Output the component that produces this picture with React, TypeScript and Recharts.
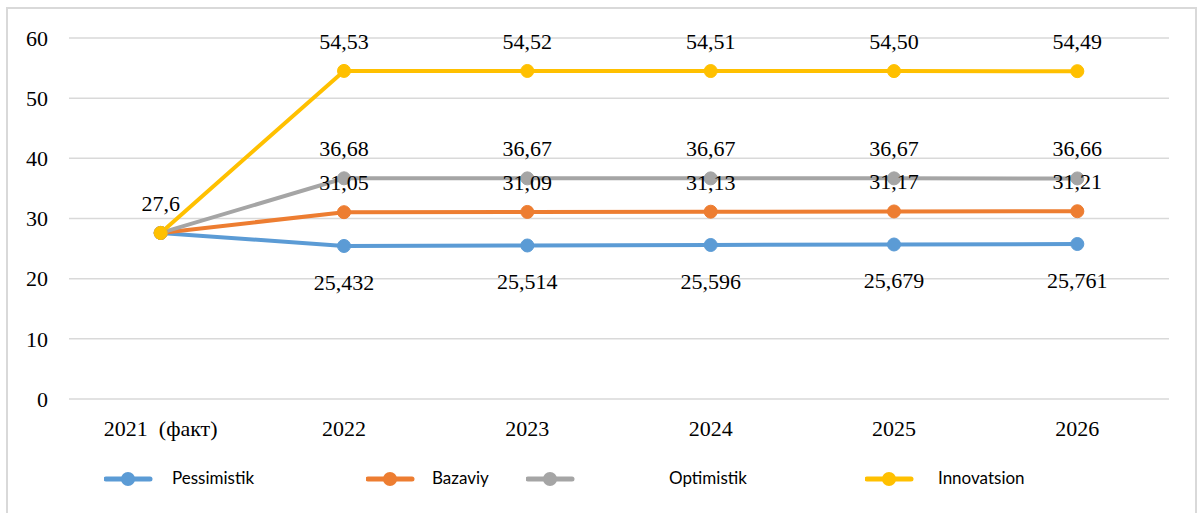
import { LineChart, Line, XAxis, YAxis, CartesianGrid, LabelList } from 'recharts'

const categories = ['2021 (факт)', '2022', '2023', '2024', '2025', '2026']
const pessimistik = [27.6, 25.432, 25.514, 25.596, 25.679, 25.761]
const bazaviy = [27.6, 31.05, 31.09, 31.13, 31.17, 31.21]
const optimistik = [27.6, 36.68, 36.67, 36.67, 36.67, 36.66]
const innovatsion = [27.6, 54.53, 54.52, 54.51, 54.5, 54.49]
const yTicks = [0, 10, 20, 30, 40, 50, 60]

const serif = '"Liberation Serif", "Times New Roman", serif'
const sans = 'Lato, "Liberation Sans", Arial, sans-serif'

const series = [
  { key: 'p', name: 'Pessimistik', values: pessimistik, color: '#5B9BD5', digits: 3, pos: 'bottom' as const, legendX: 104, textX: 172 },
  { key: 'b', name: 'Bazaviy', values: bazaviy, color: '#ED7D31', digits: 2, pos: 'top' as const, legendX: 366, textX: 432 },
  { key: 'o', name: 'Optimistik', values: optimistik, color: '#A5A5A5', digits: 2, pos: 'top' as const, legendX: 526, textX: 669 },
  { key: 'i', name: 'Innovatsion', values: innovatsion, color: '#FFC000', digits: 2, pos: 'top' as const, legendX: 865, textX: 938 },
]

const fmt = (v: number, d: number) => v.toFixed(d).replace('.', ',')

// the 2021 value is only labelled once (all series start at the same point)
const rows = categories.map((c, i) => {
  const row: Record<string, string | number | undefined> = { cat: c }
  series.forEach(s => {
    row[s.key] = s.values[i]
    row[s.key + 'Lbl'] = i === 0 ? (s.key === 'i' ? fmt(s.values[i], 1) : undefined) : fmt(s.values[i], s.digits)
  })
  return row
})

const tickStyle = { fontFamily: serif, fontSize: 22, fill: '#000' }

export default function App() {
  return (
    <div style={{ position: 'absolute', left: 0, top: 0, width: 1203, height: 513, background: '#fff', overflow: 'hidden' }}>
      <div style={{ position: 'absolute', left: 6, top: 7, width: 1187, height: 520, border: '2px solid #d9d9d9' }} />
      <div style={{ position: 'absolute', left: 0, top: 0 }}>
        <LineChart width={1203} height={513} data={rows} margin={{ top: 38, right: 34, left: 0, bottom: 64 }}>
          <CartesianGrid vertical={false} stroke="#d9d9d9" strokeWidth={1.5} />
          <XAxis dataKey="cat" scale="band" height={50} axisLine={false} tickLine={false}
            tickMargin={15} tick={tickStyle} interval={0}
            tickFormatter={(v: string) => v.replace(' ', '\u00a0\u00a0')} />
          <YAxis width={69} domain={[0, 60]} ticks={yTicks} axisLine={false} tickLine={false}
            tickMargin={15} tick={tickStyle} />
          {series.map(s => (
            <Line key={s.key} dataKey={s.key} name={s.name} stroke={s.color} strokeWidth={4}
              dot={{ r: 6.5, fill: s.color, stroke: s.color, strokeWidth: 1 }} activeDot={false}
              isAnimationActive={false}>
              <LabelList dataKey={s.key + 'Lbl'} position={s.pos} offset={s.pos === 'top' ? 22 : 28}
                style={{ fontFamily: serif, fontSize: 22, fill: '#000' }} />
            </Line>
          ))}
        </LineChart>
      </div>
      {series.map(s => (
        <div key={s.key}>
          <svg style={{ position: 'absolute', left: s.legendX, top: 470 }} width={50} height={18}>
            <line x1={2} y1={9} x2={46} y2={9} stroke={s.color} strokeWidth={5} strokeLinecap="round" />
            <circle cx={24} cy={9} r={7} fill={s.color} />
          </svg>
          <div style={{ position: 'absolute', left: s.textX, top: 467, fontFamily: sans, fontSize: 17, color: '#000', lineHeight: '22px' }}>
            {s.name}
          </div>
        </div>
      ))}
    </div>
  )
}
